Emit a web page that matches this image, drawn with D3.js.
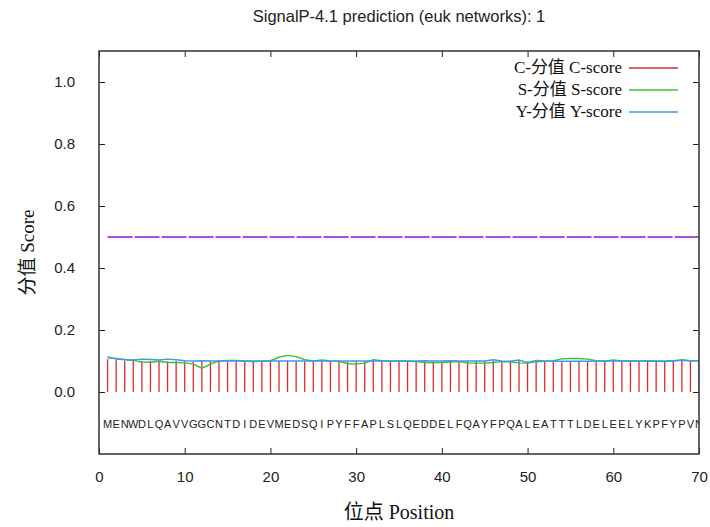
<!DOCTYPE html>
<html>
<head>
<meta charset="utf-8">
<script src="https://cdn.jsdelivr.net/npm/d3@7"></script>
<style>
  body { margin: 0; background: #fff; }
  svg { display: block; }
</style>
</head>
<body>
<div id="chart"></div>
<script>
// residue sequence, one letter per position 1..70
const sequence = "MENWDLQAVVGGCNTDIDEVMEDSQIPYFFAPLSLQEDDELFQAYFPQALEATTTLDELEELYKPFYPVN".split("");

// C-score (impulses)
const cScore = [
  0.106, 0.104, 0.100, 0.100, 0.099, 0.100, 0.101, 0.099, 0.100, 0.099,
  0.098, 0.099, 0.100, 0.101, 0.100, 0.100, 0.100, 0.101, 0.099, 0.100,
  0.100, 0.101, 0.100, 0.100, 0.101, 0.100, 0.100, 0.099, 0.098, 0.099,
  0.100, 0.100, 0.101, 0.100, 0.099, 0.100, 0.100, 0.101, 0.100, 0.100,
  0.101, 0.100, 0.100, 0.101, 0.100, 0.102, 0.100, 0.101, 0.101, 0.099,
  0.101, 0.100, 0.099, 0.100, 0.100, 0.101, 0.100, 0.100, 0.101, 0.101,
  0.100, 0.100, 0.100, 0.101, 0.100, 0.100, 0.101, 0.101, 0.100, 0.101
];

// S-score
const sScore = [
  0.114, 0.106, 0.104, 0.102, 0.097, 0.096, 0.099, 0.095, 0.095, 0.094,
  0.090, 0.077, 0.090, 0.100, 0.102, 0.102, 0.100, 0.098, 0.099, 0.101,
  0.112, 0.118, 0.114, 0.104, 0.100, 0.103, 0.100, 0.099, 0.091, 0.090,
  0.093, 0.104, 0.101, 0.099, 0.100, 0.099, 0.098, 0.095, 0.094, 0.095,
  0.097, 0.098, 0.093, 0.093, 0.093, 0.095, 0.098, 0.097, 0.094, 0.093,
  0.097, 0.100, 0.101, 0.107, 0.108, 0.108, 0.106, 0.101, 0.099, 0.103,
  0.100, 0.100, 0.099, 0.100, 0.099, 0.098, 0.100, 0.104, 0.101, 0.101
];

// Y-score
const yScore = [
  0.110, 0.108, 0.105, 0.103, 0.106, 0.105, 0.103, 0.106, 0.104, 0.101,
  0.100, 0.101, 0.100, 0.100, 0.101, 0.100, 0.100, 0.100, 0.100, 0.100,
  0.100, 0.100, 0.100, 0.100, 0.100, 0.100, 0.100, 0.100, 0.100, 0.100,
  0.100, 0.100, 0.100, 0.100, 0.100, 0.100, 0.100, 0.101, 0.100, 0.100,
  0.101, 0.100, 0.100, 0.100, 0.100, 0.104, 0.100, 0.099, 0.103, 0.095,
  0.102, 0.100, 0.099, 0.099, 0.099, 0.099, 0.099, 0.100, 0.100, 0.100,
  0.100, 0.100, 0.100, 0.100, 0.100, 0.100, 0.101, 0.102, 0.101, 0.101
];

const cutoff = 0.5;
const xTicks = [0, 10, 20, 30, 40, 50, 60, 70];
const yTicks = [0.0, 0.2, 0.4, 0.6, 0.8, 1.0];

const titleText = "SignalP-4.1 prediction (euk networks): 1";
const xLabel = "位点 Position";
const yLabel = "分值 Score";
const legendNames = ["C-分值 C-score", "S-分值 S-score", "Y-分值 Y-score"];
const legendColors = ["#e02828", "#3cbf3c", "#3a9af0"];

const width = 710, height = 527;
const margin = { top: 51, right: 11, bottom: 73, left: 99 };
const plotW = width - margin.left - margin.right;
const plotH = height - margin.top - margin.bottom;

const sansFont = "'Liberation Sans', Helvetica, Arial, sans-serif";
const serifFont = "'Liberation Serif', 'Times New Roman', 'Noto Sans CJK SC', serif";

const svg = d3.select("#chart").append("svg")
  .attr("width", width).attr("height", height);

const x = d3.scaleLinear().domain([0, 70]).range([0, plotW]);
const y = d3.scaleLinear().domain([-0.2, 1.1]).range([plotH, 0]);

const g = svg.append("g").attr("transform", `translate(${margin.left},${margin.top})`);

g.append("clipPath").attr("id", "plotClip")
  .append("rect").attr("width", plotW).attr("height", plotH);

// axes with inward ticks (gnuplot style)
const axisStyle = (sel) => {
  sel.select(".domain").remove();
  sel.selectAll("line").attr("stroke", "#222").attr("stroke-width", 1);
  sel.selectAll("text").attr("font-family", sansFont).attr("font-size", 15).attr("fill", "#222");
};

g.append("g").attr("transform", `translate(0,${plotH})`)
  .call(d3.axisBottom(x).tickValues(xTicks).tickSizeInner(-6).tickSizeOuter(0).tickPadding(17))
  .call(axisStyle);
g.append("g")
  .call(d3.axisTop(x).tickValues(xTicks).tickSizeInner(-6).tickSizeOuter(0).tickFormat(""))
  .call(axisStyle);
g.append("g")
  .call(d3.axisLeft(y).tickValues(yTicks).tickSizeInner(-6).tickSizeOuter(0).tickPadding(24).tickFormat(d3.format(".1f")))
  .call(axisStyle);
g.append("g").attr("transform", `translate(${plotW},0)`)
  .call(d3.axisRight(y).tickValues(yTicks).tickSizeInner(-6).tickSizeOuter(0).tickFormat(""))
  .call(axisStyle);

const positions = d3.range(1, sequence.length + 1);
const plot = g.append("g").attr("clip-path", "url(#plotClip)");

// cutoff line
plot.append("line")
  .attr("x1", x(1)).attr("x2", x(70))
  .attr("y1", y(cutoff)).attr("y2", y(cutoff))
  .attr("stroke", "#9a10d8").attr("stroke-width", 1.4)
  .attr("stroke-dasharray", "25,2");

// C-score impulses
plot.selectAll(".cbar").data(cScore).enter().append("line")
  .attr("class", "cbar")
  .attr("x1", (d, i) => x(positions[i])).attr("x2", (d, i) => x(positions[i]))
  .attr("y1", y(0)).attr("y2", d => y(d))
  .attr("stroke", legendColors[0]).attr("stroke-width", 1.3);

const lineGen = d3.line().x((d, i) => x(positions[i])).y(d => y(d));

plot.append("path").datum(sScore)
  .attr("d", lineGen).attr("fill", "none")
  .attr("stroke", legendColors[1]).attr("stroke-width", 1.4);

plot.append("path").datum(yScore)
  .attr("d", lineGen).attr("fill", "none")
  .attr("stroke", legendColors[2]).attr("stroke-width", 1.4);

// sequence letters
plot.selectAll(".aa").data(sequence).enter().append("text")
  .attr("class", "aa")
  .attr("x", (d, i) => x(positions[i]))
  .attr("y", y(-0.1) + 5)
  .attr("text-anchor", "middle")
  .attr("font-family", sansFont).attr("font-size", 11)
  .attr("fill", "#222")
  .text(d => d);

// frame
g.append("rect").attr("width", plotW).attr("height", plotH)
  .attr("fill", "none").attr("stroke", "#333").attr("stroke-width", 1.5);

// legend
const legend = g.append("g");
legendNames.forEach((name, i) => {
  const ly = 17 + i * 22;
  legend.append("text")
    .attr("x", 523).attr("y", ly + 5)
    .attr("text-anchor", "end")
    .attr("font-family", serifFont).attr("font-size", 17)
    .attr("fill", "#111")
    .text(name);
  legend.append("line")
    .attr("x1", 530).attr("x2", 579)
    .attr("y1", ly).attr("y2", ly)
    .attr("stroke", legendColors[i]).attr("stroke-width", 1.4);
});

// titles
svg.append("text")
  .attr("x", margin.left + plotW / 2).attr("y", 22)
  .attr("text-anchor", "middle")
  .attr("font-family", sansFont).attr("font-size", 16.5)
  .attr("fill", "#222")
  .text(titleText);

svg.append("text")
  .attr("x", margin.left + plotW / 2).attr("y", 519)
  .attr("text-anchor", "middle")
  .attr("font-family", serifFont).attr("font-size", 20)
  .attr("fill", "#111")
  .text(xLabel);

svg.append("text")
  .attr("transform", `translate(34,${margin.top + y(0.45)}) rotate(-90)`)
  .attr("text-anchor", "middle")
  .attr("font-family", serifFont).attr("font-size", 19)
  .attr("fill", "#111")
  .text(yLabel);
</script>
</body>
</html>
